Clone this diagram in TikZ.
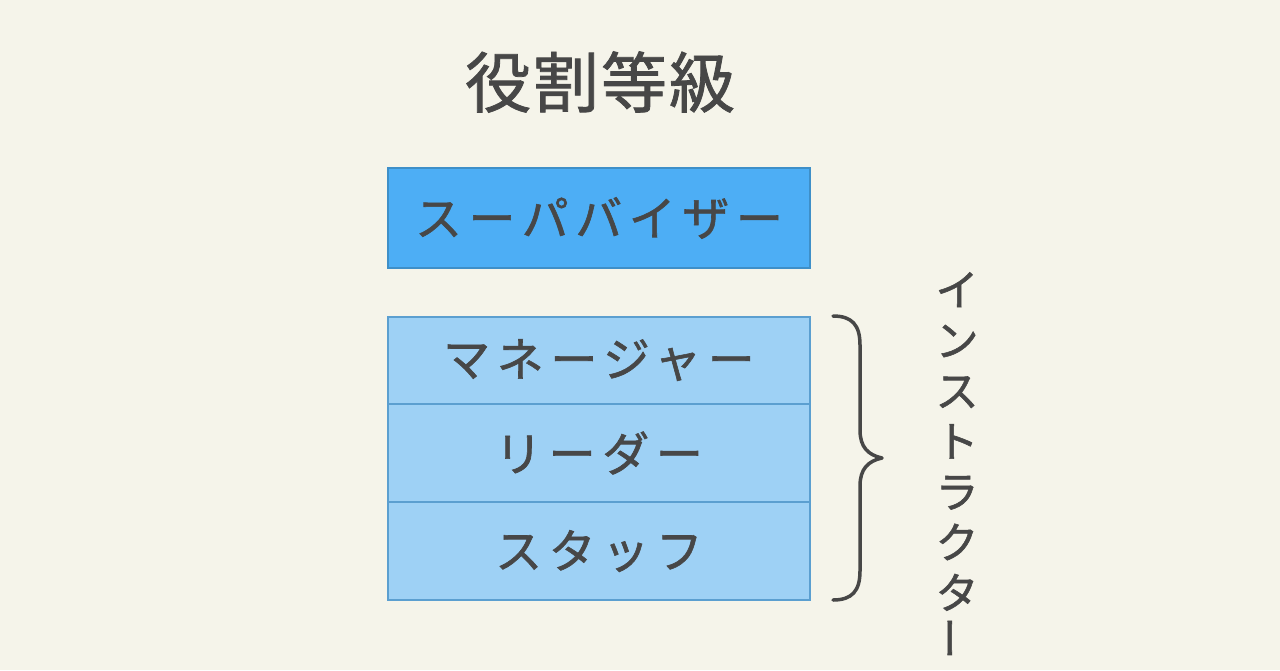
\documentclass[tikz,border=0pt]{standalone}
\usepackage{fontspec}
\newfontfamily\jp[FakeBold=1.3]{Noto Sans CJK JP}
\newfontfamily\jpwide[LetterSpace=14,FakeBold=1.3]{Noto Sans CJK JP}
\newfontfamily\jptitle[LetterSpace=3,FakeBold=1.2]{Noto Sans CJK JP}
\definecolor{bg}{HTML}{F5F4EA}
\definecolor{ink}{HTML}{474747}
\definecolor{supfill}{HTML}{4DAEF5}
\definecolor{supline}{HTML}{3E8FC8}
\definecolor{insfill}{HTML}{9ED1F5}
\definecolor{insline}{HTML}{5B9FD0}
\begin{document}
\begin{tikzpicture}[x=1pt,y=-1pt,
  lvl/.style={draw, line width=2pt, minimum width=422pt, inner sep=0pt,
    text=ink, font=\jpwide\fontsize{47}{52}\selectfont},
  sup/.style={lvl, fill=supfill, draw=supline},
  ins/.style={lvl, fill=insfill, draw=insline}]
\fill[bg] (0,0) rectangle (1280,670);
\useasboundingbox (0,0) rectangle (1280,670);
\node[text=ink, font=\jptitle\fontsize{66}{72}\selectfont] (title) at (600,82) {役割等級};
\node[sup, minimum height=100pt] (sv) at (599,218) {スーパバイザー};
\node[ins, minimum height=87pt] (mg) at (599,360) {マネージャー};
\node[ins, minimum height=98pt] (ld) at (599,453) {リーダー};
\node[ins, minimum height=98pt] (st) at (599,551) {スタッフ};
\coordinate (bt) at (833,316);
\coordinate (bb) at (833,600);
\draw[ink, line width=3.5pt, line cap=round, line join=round]
  (bt) .. controls (852,316) and (860,325) .. (860,345) -- (860,430)
  .. controls (860,447) and (868,455) .. (882,458)
  .. controls (868,461) and (860,469) .. (860,486) -- (860,571)
  .. controls (860,591) and (852,600) .. (bb);
\node[text=ink, align=center, inner sep=0pt, anchor=north,
  font=\jp\fontsize{43}{50.5}\selectfont] (ins) at (957,272)
  {イ\\ン\\ス\\ト\\ラ\\ク\\タ\\\rotatebox{90}{ー}};
\end{tikzpicture}
\end{document}
